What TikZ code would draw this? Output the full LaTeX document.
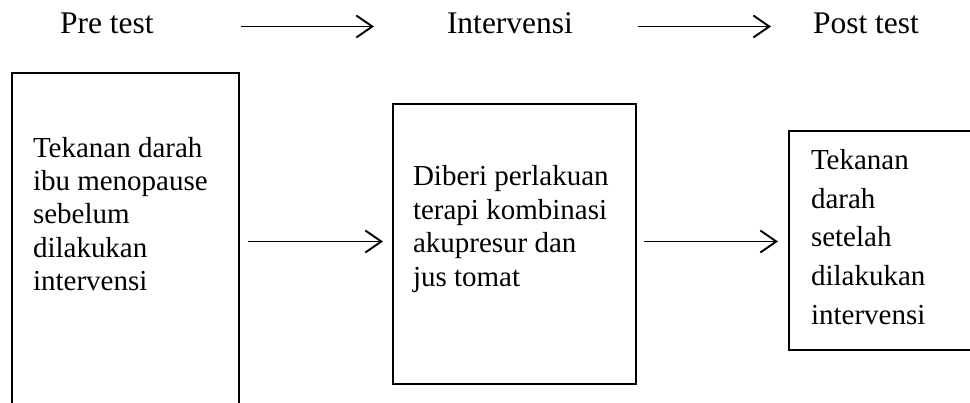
\documentclass[tikz,border=0pt]{standalone}
\usepackage{fontspec}
\setmainfont{Liberation Serif}
\usetikzlibrary{arrows.meta,calc}
\begin{document}
\begin{tikzpicture}[x=1pt,y=-1pt,
  box/.style={draw, line width=1.6pt, inner sep=0pt, outer sep=0pt, anchor=north west},
  lbl/.style={inner sep=0pt, outer sep=0pt, anchor=base west, font=\fontsize{31.5}{36}\selectfont},
  txt/.style={inner sep=0pt, outer sep=0pt, anchor=base west},
  arr/.style={line width=1.9pt, -{Straight Barb[length=16pt,width=22pt]}}]
\clip (0,0) rectangle (970,403);
% boxes
\node[box, minimum width=227pt, minimum height=380pt] (b1) at (12,73) {};
\node[box, minimum width=243pt, minimum height=280pt] (b2) at (393,104) {};
\node[box, minimum width=230pt, minimum height=219pt] (b3) at (789,131) {};
% box texts
\node[txt] (t1) at (33,157.3) {\fontsize{29}{33.3}\selectfont\vtop{\hbox{Tekanan darah}\hbox{ibu menopause}\hbox{sebelum}\hbox{dilakukan}\hbox{intervensi}}};
\node[txt] (t2) at (413,186) {\fontsize{29}{33.5}\selectfont\vtop{\hbox{Diberi perlakuan}\hbox{terapi kombinasi}\hbox{akupresur dan}\hbox{jus tomat}}};
\node[txt] (t3) at (811,169.3) {\fontsize{29}{38.8}\selectfont\vtop{\hbox{Tekanan}\hbox{darah}\hbox{setelah}\hbox{dilakukan}\hbox{intervensi}}};
% top labels
\node[lbl] (pre) at (60,34) {Pre test};
\node[lbl] (int) at (447,34) {Intervensi};
\node[lbl] (post) at (813,34) {Post test};
% helper coordinates
\coordinate (ya) at (0,26.5);
\coordinate (yb) at (0,241.5);
% arrows
\draw[arr, shorten <=87pt, shorten >=73pt] (pre.east |- ya) -- (int.west |- ya);
\draw[arr, shorten <=65pt, shorten >=42pt] (int.east |- ya) -- (post.west |- ya);
\draw[arr, shorten <=9pt, shorten >=10pt] (b1.east |- yb) -- (b2.west |- yb);
\draw[arr, shorten <=8pt, shorten >=11pt] (b2.east |- yb) -- (b3.west |- yb);
\end{tikzpicture}
\end{document}
